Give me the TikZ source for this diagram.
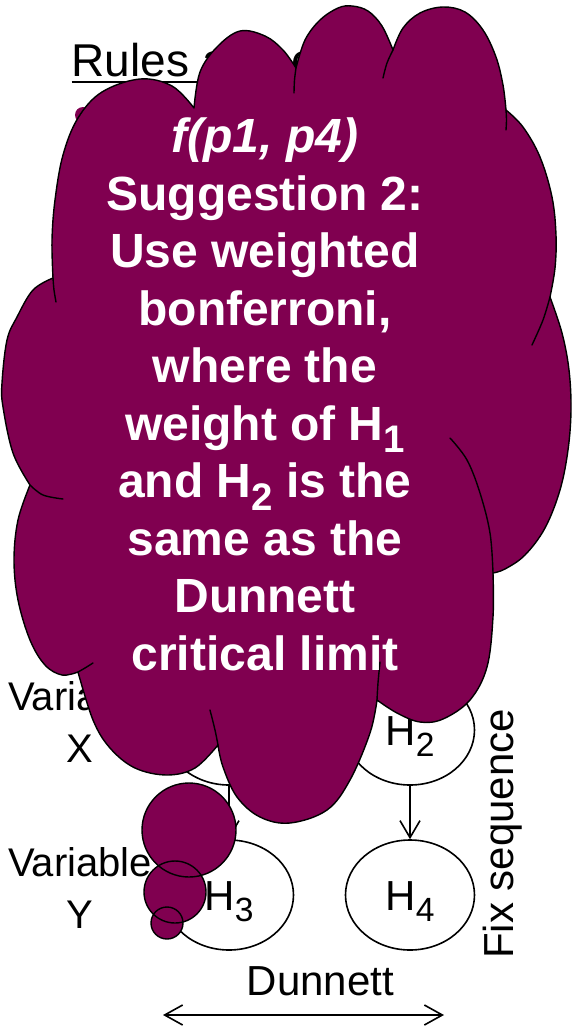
\documentclass[tikz,border=0pt]{standalone}
\usepackage{fontspec}
\setmainfont{Liberation Sans}
\usepackage{graphicx}
\usetikzlibrary{shapes.geometric,arrows.meta}
\definecolor{cloudpurple}{RGB}{128,0,80}
\newcommand{\hsub}[1]{\raisebox{-0.27em}{\scalebox{0.8}{#1}}}
\begin{document}
\begin{tikzpicture}[x=1pt,y=-1pt,
  hyp/.style={ellipse,draw,line width=1.6pt,minimum width=129pt,minimum height=110pt,inner sep=0pt,text height=30pt,text depth=0pt,font=\fontsize{42}{50}\selectfont},
  arr/.style={line width=1.6pt,-{Straight Barb[length=17pt,width=20pt]}},
  lbl/.style={inner sep=0pt,font=\fontsize{42}{50}\selectfont},
  varlbl/.style={inner sep=0pt,align=center,font=\fontsize{40}{52}\selectfont},
  cloudline/.style={line width=1.4pt,line join=round,line cap=round},
  lobe/.style={smooth,tension=0.6},
  bubble/.style={fill=cloudpurple},
]
\useasboundingbox (0,0) rectangle (571,1029);

% ---- underlying diagram ----
\node[inner sep=0pt,anchor=base west,font=\fontsize{46}{55}\selectfont] (title) at (71.5,76) {Rules and c};
\draw[line width=2.8pt] ([yshift=-6pt]title.base west) -- ([yshift=-6pt]title.base east);
\fill[cloudpurple] (83,115) circle[radius=8pt];

\node[varlbl,anchor=base] (vx) at (80,762) {Variable\\X};
\node[varlbl,anchor=base] (vy) at (80,928) {Variable\\Y};

\node[hyp] (H1) at (229,730) {H\hsub{1}};
\node[hyp] (H2) at (410,730) {H\hsub{2}};
\node[hyp] (H3) at (229,895) {H\hsub{3}};
\node[hyp] (H4) at (410,895) {H\hsub{4}};
\draw[arr] (H1) -- (H3);
\draw[arr] (H2) -- (H4);

\node[lbl,rotate=90,anchor=base] (fix) at (513,834) {Fix sequence};
\node[lbl,anchor=base] (dun) at (320.5,995) {Dunnett};
\coordinate (dl) at (163,1015);
\coordinate (dr) at (444,1015);
\draw[line width=1.6pt,{Straight Barb[length=18pt,width=20pt]}-{Straight Barb[length=18pt,width=20pt]}] (dl) -- (dr);

% ---- cloud callout ----
\path[fill=cloudpurple,draw=black,cloudline]
  plot[lobe] coordinates {(194,108) (200,72) (217,47) (240,31) (265,36) (283,50) (296,68)}
  -- plot[lobe] coordinates {(296,68) (305,40) (320,20) (338,8) (352,6) (368,11) (382,26) (393,50)}
  -- plot[lobe] coordinates {(393,50) (403,28) (420,13) (443,7) (465,12) (483,30) (496,57) (503,85) (506,110)}
  -- plot[lobe] coordinates {(506,110) (523,127) (540,157) (552,197) (556,235) (555,268) (550,297)}
  -- plot[lobe] coordinates {(550,297) (562,333) (569,370) (571,410) (568,450) (560,490) (545,528) (525,555) (505,569) (493,573)}
  -- plot[lobe] coordinates {(493,573) (493,617) (487,667) (470,700) (443,719) (420,722) (397,713) (377,700)}
  -- plot[lobe] coordinates {(377,700) (370,733) (350,780) (327,810) (290,823) (260,817) (237,797) (223,767) (218,745)}
  -- plot[lobe] coordinates {(218,745) (195,768) (167,775) (135,768) (110,748) (93,720) (78,672)}
  -- plot[lobe] coordinates {(78,672) (62,675) (45,665) (30,640) (18,600) (14,560) (18,520) (30,485)}
  -- plot[lobe] coordinates {(30,485) (13,453) (3,407) (2,383) (7,340) (17,317) (33,290) (53,278)}
  -- plot[lobe] coordinates {(53,278) (52,240) (55,200) (63,155) (78,118) (102,92) (140,79) (172,86) (194,108)}
  -- cycle;
% inner arcs of the cloud
\draw[cloudline] plot[lobe] coordinates {(296,68) (294.5,80) (294,93)};
\draw[cloudline] plot[lobe] coordinates {(393,50) (387,63) (383,78)};
\draw[cloudline] plot[lobe] coordinates {(506,110) (506.5,120) (506,130)};
\draw[cloudline] plot[lobe] coordinates {(550,297) (543,320) (532,345)};
\draw[cloudline] plot[lobe] coordinates {(493,573) (490,533) (480,493) (467,460) (450,438)};
\draw[cloudline] plot[lobe] coordinates {(377,700) (378,683) (380,662)};
\draw[cloudline] plot[lobe] coordinates {(218,745) (215,730) (210,710)};
\draw[cloudline] plot[lobe] coordinates {(78,672) (85,668) (93,663)};
\draw[cloudline] plot[lobe] coordinates {(30,485) (43,495) (63,499)};
\draw[cloudline] plot[lobe] coordinates {(53,278) (54,290) (56,302)};

% tail bubbles
\fill[bubble] (189,830) circle[radius=47pt];
\fill[bubble] (175,892) circle[radius=31pt];
\fill[bubble] (167,923) circle[radius=16pt];
\draw[cloudline] (189,830) circle[radius=47pt];
\draw[cloudline] (175,892) circle[radius=31pt];
\draw[cloudline] (167,923) circle[radius=16pt];

\node[inner sep=0pt,anchor=base,align=center,text=white,font=\fontsize{48}{57.5}\selectfont\bfseries] (ctext) at (265,670)
  {\textit{f(p1, p4)}\\Suggestion 2:\\Use weighted\\bonferroni,\\where the\\weight of H\hsub{1}\\and H\hsub{2} is the\\same as the\\Dunnett\\critical limit};
\end{tikzpicture}
\end{document}
